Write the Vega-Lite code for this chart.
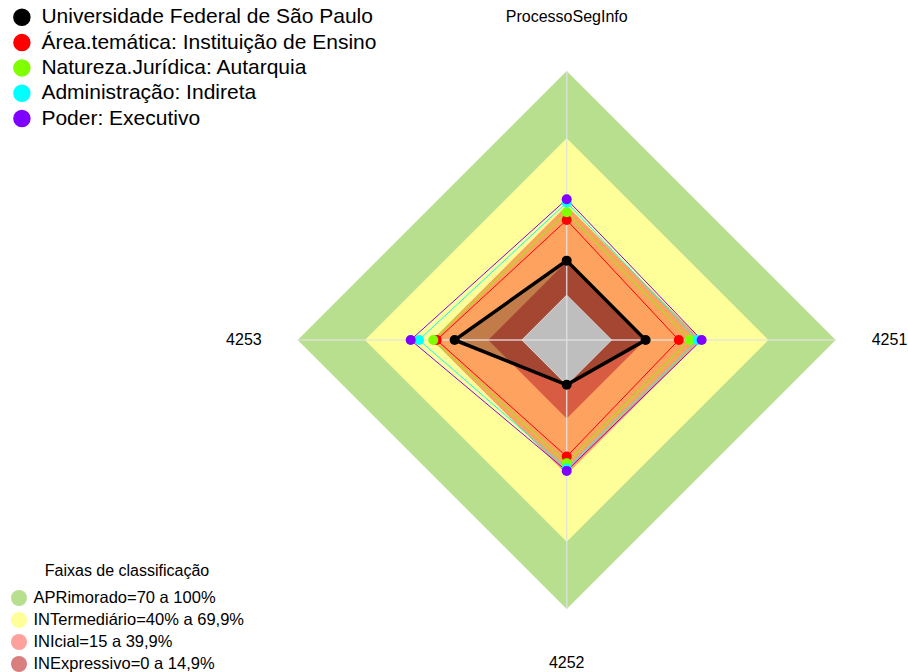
{
  "$schema": "https://vega.github.io/schema/vega-lite/v6.json",
  "width": 908,
  "height": 672,
  "padding": 0,
  "autosize": {"type": "none"},
  "background": "white",
  "config": {"view": {"stroke": null}, "font": "Liberation Sans"},
  "datasets": {
    "bands": [
      {"band": "APRimorado=70 a 100%", "axis": "ProcessoSegInfo", "value": 100},
      {"band": "APRimorado=70 a 100%", "axis": "4251", "value": 100},
      {"band": "APRimorado=70 a 100%", "axis": "4252", "value": 100},
      {"band": "APRimorado=70 a 100%", "axis": "4253", "value": 100},
      {"band": "INTermediário=40% a 69,9%", "axis": "ProcessoSegInfo", "value": 70},
      {"band": "INTermediário=40% a 69,9%", "axis": "4251", "value": 70},
      {"band": "INTermediário=40% a 69,9%", "axis": "4252", "value": 70},
      {"band": "INTermediário=40% a 69,9%", "axis": "4253", "value": 70},
      {"band": "INIcial=15 a 39,9%", "axis": "ProcessoSegInfo", "value": 40},
      {"band": "INIcial=15 a 39,9%", "axis": "4251", "value": 40},
      {"band": "INIcial=15 a 39,9%", "axis": "4252", "value": 40},
      {"band": "INIcial=15 a 39,9%", "axis": "4253", "value": 40},
      {"band": "INExpressivo=0 a 14,9%", "axis": "ProcessoSegInfo", "value": 15},
      {"band": "INExpressivo=0 a 14,9%", "axis": "4251", "value": 15},
      {"band": "INExpressivo=0 a 14,9%", "axis": "4252", "value": 15},
      {"band": "INExpressivo=0 a 14,9%", "axis": "4253", "value": 15}
    ],
    "center": [
      {"axis": "ProcessoSegInfo", "value": 0},
      {"axis": "4251", "value": 0},
      {"axis": "4252", "value": 0},
      {"axis": "4253", "value": 0}
    ],
    "axes": [
      {"axis": "ProcessoSegInfo", "value": 100},
      {"axis": "4251", "value": 100},
      {"axis": "4252", "value": 100},
      {"axis": "4253", "value": 100}
    ],
    "series": [
      {"series": "Universidade Federal de São Paulo", "axis": "ProcessoSegInfo", "value": 15.4},
      {"series": "Universidade Federal de São Paulo", "axis": "4251", "value": 15.2},
      {"series": "Universidade Federal de São Paulo", "axis": "4252", "value": 0},
      {"series": "Universidade Federal de São Paulo", "axis": "4253", "value": 30},
      {"series": "Área.temática: Instituição de Ensino", "axis": "ProcessoSegInfo", "value": 33.5},
      {"series": "Área.temática: Instituição de Ensino", "axis": "4251", "value": 30},
      {"series": "Área.temática: Instituição de Ensino", "axis": "4252", "value": 32},
      {"series": "Área.temática: Instituição de Ensino", "axis": "4253", "value": 38},
      {"series": "Natureza.Jurídica: Autarquia", "axis": "ProcessoSegInfo", "value": 37},
      {"series": "Natureza.Jurídica: Autarquia", "axis": "4251", "value": 35},
      {"series": "Natureza.Jurídica: Autarquia", "axis": "4252", "value": 35},
      {"series": "Natureza.Jurídica: Autarquia", "axis": "4253", "value": 39.5},
      {"series": "Administração: Indireta", "axis": "ProcessoSegInfo", "value": 41.3},
      {"series": "Administração: Indireta", "axis": "4251", "value": 38.4},
      {"series": "Administração: Indireta", "axis": "4252", "value": 37.3},
      {"series": "Administração: Indireta", "axis": "4253", "value": 45.9},
      {"series": "Poder: Executivo", "axis": "ProcessoSegInfo", "value": 42.8},
      {"series": "Poder: Executivo", "axis": "4251", "value": 40.2},
      {"series": "Poder: Executivo", "axis": "4252", "value": 38.4},
      {"series": "Poder: Executivo", "axis": "4253", "value": 49.6}
    ]
  },
  "encoding": {
    "x": {"field": "x", "type": "quantitative", "axis": null, "scale": {"domain": [-2.1067, 1.2688], "nice": false, "zero": false}},
    "y": {"field": "y", "type": "quantitative", "axis": null, "scale": {"domain": [-1.2342, 1.2639], "nice": false, "zero": false}}
  },
  "layer": [
    {
      "data": {"name": "bands"},
      "transform": [
        {"calculate": "indexof(['ProcessoSegInfo','4251','4252','4253'], datum.axis)", "as": "k"},
        {"calculate": "(datum.value + 20) / 120", "as": "r"},
        {"calculate": "datum.r * sin(datum.k * PI / 2)", "as": "x"},
        {"calculate": "datum.r * cos(datum.k * PI / 2)", "as": "y"}
      ],
      "mark": {"type": "line", "interpolate": "linear-closed", "stroke": "transparent", "strokeWidth": 0},
      "encoding": {
        "order": {"field": "k", "type": "quantitative"},
        "fill": {
          "field": "band", "type": "nominal",
          "scale": {"domain": ["APRimorado=70 a 100%", "INTermediário=40% a 69,9%", "INIcial=15 a 39,9%", "INExpressivo=0 a 14,9%"],
                    "range": ["#b7df8d", "#ffff99", "#fa0a00", "#c03030"]},
          "legend": {
            "title": "Faixas de classificação", "orient": "none", "legendX": 10, "legendY": 563,
            "titleFontSize": 16, "titleFontWeight": "normal", "titleAnchor": "middle", "titlePadding": 10, "titleColor": "black",
            "labelFontSize": 16.5, "labelColor": "black", "labelOffset": 5.5, "labelLimit": 500,
            "symbolType": "circle", "symbolSize": 256, "rowPadding": 0, "padding": 0,
            "encode": {"symbols": {"update": {
              "fill": {"scale": "fill", "field": "value"},
              "stroke": {"scale": "fill", "field": "value"},
              "strokeWidth": {"value": 1},
              "opacity": {"scale": "opacity", "field": "value"}
            }}}
          }
        },
        "opacity": {
          "field": "band", "type": "nominal",
          "scale": {"type": "ordinal", "domain": ["APRimorado=70 a 100%", "INTermediário=40% a 69,9%", "INIcial=15 a 39,9%", "INExpressivo=0 a 14,9%"],
                    "range": [1, 1, 0.38, 0.615]},
          "legend": null
        }
      }
    },
    {
      "data": {"name": "series"},
      "transform": [
        {"filter": "datum.series == 'Universidade Federal de São Paulo'"},
        {"calculate": "indexof(['ProcessoSegInfo','4251','4252','4253'], datum.axis)", "as": "k"},
        {"calculate": "(datum.value + 20) / 120", "as": "r"},
        {"calculate": "datum.r * sin(datum.k * PI / 2)", "as": "x"},
        {"calculate": "datum.r * cos(datum.k * PI / 2)", "as": "y"}
      ],
      "mark": {"type": "line", "interpolate": "linear-closed", "stroke": "transparent", "strokeWidth": 0, "fill": "black", "fillOpacity": 0.23},
      "encoding": {
        "order": {"field": "k", "type": "quantitative"}
      }
    },
    {
      "data": {"name": "center"},
      "transform": [
        {"calculate": "indexof(['ProcessoSegInfo','4251','4252','4253'], datum.axis)", "as": "k"},
        {"calculate": "(datum.value + 20) / 120", "as": "r"},
        {"calculate": "datum.r * sin(datum.k * PI / 2)", "as": "x"},
        {"calculate": "datum.r * cos(datum.k * PI / 2)", "as": "y"}
      ],
      "mark": {"type": "line", "interpolate": "linear-closed", "fill": "#bebebe", "stroke": "#d8d8d8", "strokeWidth": 1},
      "encoding": {"order": {"field": "k", "type": "quantitative"}}
    },
    {
      "data": {"name": "axes"},
      "transform": [
        {"calculate": "indexof(['ProcessoSegInfo','4251','4252','4253'], datum.axis)", "as": "k"},
        {"calculate": "(datum.value + 20) / 120", "as": "r"},
        {"calculate": "datum.r * sin(datum.k * PI / 2)", "as": "x"},
        {"calculate": "datum.r * cos(datum.k * PI / 2)", "as": "y"},
        {"calculate": "0", "as": "z"}
      ],
      "mark": {"type": "rule", "color": "#e2e2e2", "strokeWidth": 1.5, "opacity": 0.85},
      "encoding": {"x2": {"field": "z"}, "y2": {"field": "z"}}
    },
    {
      "data": {"name": "axes"},
      "transform": [
        {"calculate": "indexof(['ProcessoSegInfo','4251','4252','4253'], datum.axis)", "as": "k"},
        {"calculate": "1.2 * sin(datum.k * PI / 2)", "as": "x"},
        {"calculate": "1.2 * cos(datum.k * PI / 2)", "as": "y"}
      ],
      "mark": {"type": "text", "fontSize": 16, "color": "black", "align": "center", "baseline": "middle"},
      "encoding": {"text": {"field": "axis"}}
    },
    {
      "data": {"name": "series"},
      "transform": [
        {"filter": "datum.series != 'Universidade Federal de São Paulo'"},
        {"calculate": "indexof(['ProcessoSegInfo','4251','4252','4253'], datum.axis)", "as": "k"},
        {"calculate": "(datum.value + 20) / 120", "as": "r"},
        {"calculate": "datum.r * sin(datum.k * PI / 2)", "as": "x"},
        {"calculate": "datum.r * cos(datum.k * PI / 2)", "as": "y"}
      ],
      "mark": {"type": "line", "interpolate": "linear-closed", "strokeWidth": 1},
      "encoding": {
        "order": {"field": "k", "type": "quantitative"},
        "color": {"field": "series", "type": "nominal"}
      }
    },
    {
      "data": {"name": "series"},
      "transform": [
        {"filter": "datum.series == 'Universidade Federal de São Paulo'"},
        {"calculate": "indexof(['ProcessoSegInfo','4251','4252','4253'], datum.axis)", "as": "k"},
        {"calculate": "(datum.value + 20) / 120", "as": "r"},
        {"calculate": "datum.r * sin(datum.k * PI / 2)", "as": "x"},
        {"calculate": "datum.r * cos(datum.k * PI / 2)", "as": "y"}
      ],
      "mark": {"type": "line", "interpolate": "linear-closed", "strokeWidth": 3.5},
      "encoding": {
        "order": {"field": "k", "type": "quantitative"},
        "color": {"field": "series", "type": "nominal"}
      }
    },
    {
      "data": {"name": "series"},
      "transform": [
        {"calculate": "indexof(['ProcessoSegInfo','4251','4252','4253'], datum.axis)", "as": "k"},
        {"calculate": "(datum.value + 20) / 120", "as": "r"},
        {"calculate": "datum.r * sin(datum.k * PI / 2)", "as": "x"},
        {"calculate": "datum.r * cos(datum.k * PI / 2)", "as": "y"}
      ],
      "mark": {"type": "point", "filled": true, "size": 100, "opacity": 1},
      "encoding": {
        "color": {
          "field": "series", "type": "nominal",
          "scale": {"domain": ["Universidade Federal de São Paulo", "Área.temática: Instituição de Ensino", "Natureza.Jurídica: Autarquia", "Administração: Indireta", "Poder: Executivo"],
                    "range": ["#000000", "#ff0000", "#80ff00", "#00ffff", "#8000ff"]},
          "legend": {
            "title": null, "orient": "none", "legendX": 11.4, "legendY": 6.8,
            "labelFontSize": 21, "labelColor": "black", "labelOffset": 9, "labelLimit": 500,
            "symbolType": "circle", "symbolSize": 256, "rowPadding": 2.3, "padding": 0,
            "encode": {"symbols": {"update": {
              "fill": {"scale": "color", "field": "value"},
              "stroke": {"value": "transparent"},
              "opacity": {"value": 1}
            }}}
          }
        }
      }
    }
  ]
}
